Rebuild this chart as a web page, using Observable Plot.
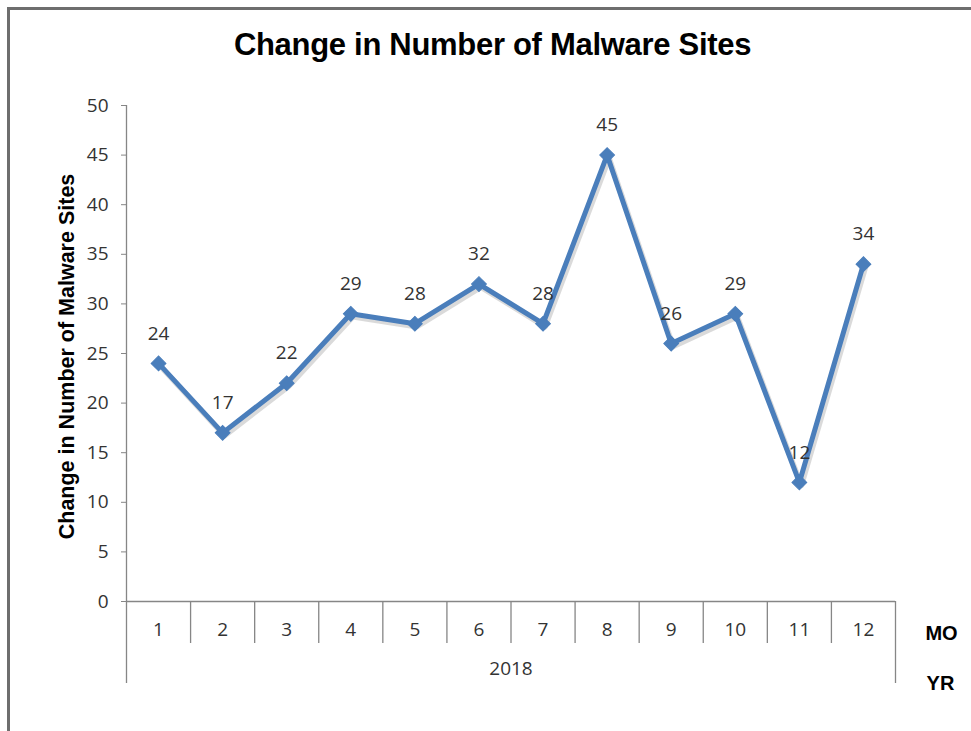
<!DOCTYPE html>
<html>
<head>
<meta charset="utf-8">
<script src="https://cdn.jsdelivr.net/npm/d3@7"></script>
<script src="https://cdn.jsdelivr.net/npm/@observablehq/plot@0.6"></script>
<style>
  html, body { margin: 0; padding: 0; background: #fff; }
  #wrap { position: relative; width: 971px; height: 731px; overflow: hidden; background: #fff; }
  #borderTop { position: absolute; left: 7px; top: 7px; width: 964px; height: 3px; background: #6e6e6e; }
  #borderLeft { position: absolute; left: 7px; top: 7px; width: 3px; height: 724px; background: #6e6e6e; }
  #title { position: absolute; left: 0; top: 28px; width: 985px; text-align: center;
           font: bold 31px "Liberation Sans", Arial, sans-serif; color: #000; line-height: 34px; letter-spacing: -0.3px; }
  #chart { position: absolute; left: 0; top: 0; }
  #chart g[aria-label="y-axis tick"] path { stroke: #868686; }
  #chart g[aria-label="y-axis tick label"] text,
  #chart g[aria-label="y-axis tick label"],
  #chart .tick text { font-size: 19px; fill: #333; }
</style>
</head>
<body>
<div id="wrap">
  <div id="borderTop"></div>
  <div id="borderLeft"></div>
  <div id="chart"></div>
  <div id="title">Change in Number of Malware Sites</div>
</div>
<script>
const months = [1, 2, 3, 4, 5, 6, 7, 8, 9, 10, 11, 12];
const values = [24, 17, 22, 29, 28, 32, 28, 45, 26, 29, 12, 34];
const yearLabel = "2018";
const yTicks = [0, 5, 10, 15, 20, 25, 30, 35, 40, 45, 50];
const yTitle = "Change in Number of Malware Sites";
const levelLabels = ["MO", "YR"];

const data = months.map((m, i) => ({month: m, value: values[i]}));
const first = d3.min(months) - 0.5;
const last = d3.max(months) + 0.5;
const innerBounds = months.slice(0, -1).map(m => m + 0.5);
const axisColor = "#868686";
const lineColor = "#4A7EBB";
const numFont = "'Open Sans', 'Liberation Sans', sans-serif";
const boldFont = "'Liberation Sans', Arial, sans-serif";
const numSize = 19;

const chart = Plot.plot({
  width: 971,
  height: 731,
  marginLeft: 126,
  marginRight: 76,
  marginTop: 105,
  marginBottom: 130,
  style: {fontFamily: numFont, fontSize: "19px", color: "#333", background: "transparent", overflow: "visible"},
  x: {domain: [first, last], axis: null},
  y: {domain: [0, 50], ticks: yTicks, tickSize: 5, tickPadding: 13, label: null, line: false},
  marks: [
    Plot.ruleY([0], {stroke: axisColor, strokeWidth: 1.3}),
    Plot.ruleX([first], {y1: 50, y2: 0, insetBottom: -82, stroke: axisColor, strokeWidth: 1.3}),
    Plot.ruleX(innerBounds, {y1: 0, y2: 0, insetBottom: -42, stroke: axisColor, strokeWidth: 1.3}),
    Plot.ruleX([last], {y1: 0, y2: 0, insetBottom: -82, stroke: axisColor, strokeWidth: 1.3}),
    Plot.line(data, {x: "month", y: "value", stroke: "#7a7a7a", strokeOpacity: 0.28, strokeWidth: 5.5, dx: 2, dy: 3, strokeLinejoin: "round"}),
    Plot.line(data, {x: "month", y: "value", stroke: lineColor, strokeWidth: 5, strokeLinejoin: "round"}),
    Plot.dot(data, {x: "month", y: "value", symbol: "square", r: 5.9, rotate: 45, fill: lineColor, stroke: lineColor, strokeWidth: 1}),
    Plot.text(data, {x: "month", y: "value", text: d => String(d.value), dy: -30, fontSize: numSize, fill: "#333"}),
    Plot.text(months, {x: d => d, y: 0, text: d => String(d), dy: 28, fontSize: numSize, fill: "#333"}),
    Plot.text([yearLabel], {x: d3.mean(months), y: 0, text: d => d, dy: 67, fontSize: numSize, fill: "#333"}),
    Plot.text([levelLabels[0]], {x: last, y: 0, text: d => d, dx: 46, dy: 32, fontSize: 20, fontWeight: "bold", fontFamily: boldFont, fill: "#000"}),
    Plot.text([levelLabels[1]], {x: last, y: 0, text: d => d, dx: 45, dy: 82, fontSize: 20, fontWeight: "bold", fontFamily: boldFont, fill: "#000"}),
    Plot.text([yTitle], {frameAnchor: "left", textAnchor: "middle", rotate: -90, dx: -59, dy: 3, text: d => d, fontSize: 21.5, fontWeight: "bold", fontFamily: boldFont, fill: "#000", style: "word-spacing: 2px"})
  ]
});
document.getElementById("chart").appendChild(chart);
</script>
</body>
</html>
